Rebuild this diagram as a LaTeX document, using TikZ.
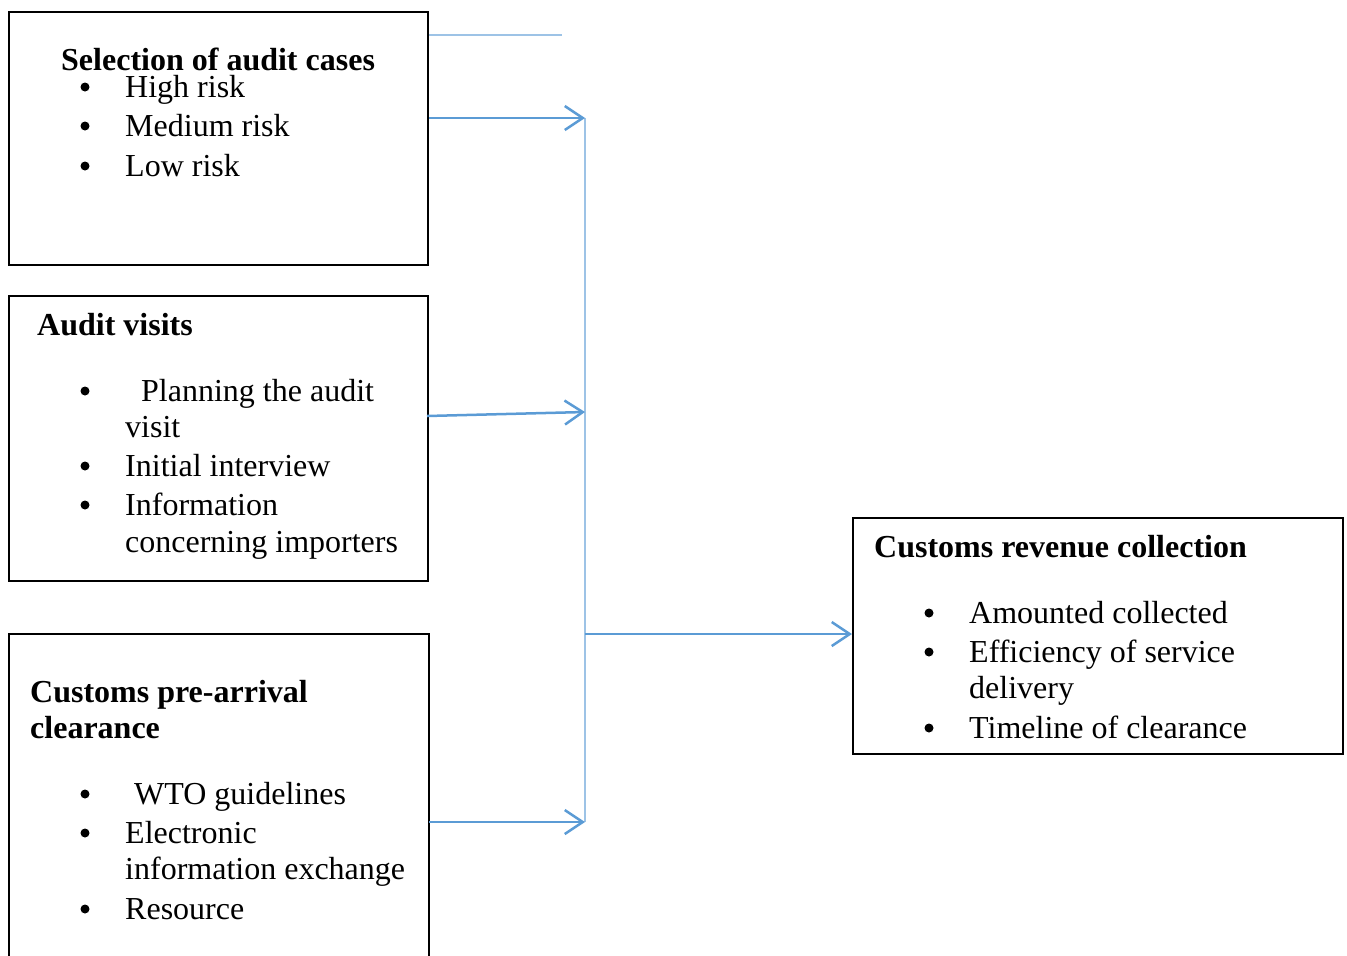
\documentclass[tikz,border=0pt]{standalone}
\usepackage{fontspec}
\setmainfont{Liberation Serif}
\usetikzlibrary{arrows.meta}
\definecolor{arrblue}{RGB}{91,155,213}
\definecolor{lineblue}{RGB}{157,195,230}
\begin{document}
\begin{tikzpicture}[x=1pt,y=-1pt,
  box/.style={draw=black,line width=2pt,rectangle,anchor=north west,inner sep=0pt},
  txt/.style={anchor=base west,inner sep=0pt,font=\fontsize{32}{38}\selectfont},
  ttl/.style={txt,font=\fontsize{32}{38}\selectfont\bfseries},
  bul/.style={circle,fill=black,inner sep=0pt,minimum size=9pt},
  conn/.style={draw=arrblue,line width=2.5pt,-{Straight Barb[length=18pt,width=24pt,line width=2.5pt]}},
  vline/.style={draw=lineblue,line width=2pt},
  thin/.style={draw=lineblue,line width=1.2pt}]
\useasboundingbox (0,0) rectangle (1347,956);
\clip (0,0) rectangle (1347,956);
% boxes
\node[box,minimum width=419pt,minimum height=253pt] (b1) at (8,11) {};
\node[box,minimum width=419pt,minimum height=285pt] (b2) at (8,295) {};
\node[box,draw=none,minimum width=418pt,minimum height=340pt] (b3) at (9,634) {};
\draw[black,line width=2pt] (b3.south west) -- (b3.north west) -- (b3.north east) -- (b3.south east);
\node[box,minimum width=490pt,minimum height=236pt] (b4) at (852,517) {};
% box 1 text
\node[ttl] (t1) at (61,70) {Selection of audit cases};
\node[bul] (p11) at (85,87) {}; \node[txt] (l11) at (125,97) {High risk};
\node[bul] (p12) at (85,126) {}; \node[txt] (l12) at (125,136) {Medium risk};
\node[bul] (p13) at (85,166) {}; \node[txt] (l13) at (125,176) {Low risk};
% box 2 text
\node[ttl] (t2) at (37,335) {Audit visits};
\node[bul] (p21) at (85,391) {}; \node[txt] (l21) at (141,401) {Planning the audit};
\node[txt] (l21b) at (125,437) {visit};
\node[bul] (p22) at (85,466) {}; \node[txt] (l22) at (125,476) {Initial interview};
\node[bul] (p23) at (85,505) {}; \node[txt] (l23) at (125,515) {Information};
\node[txt] (l23b) at (125,552) {concerning importers};
% box 3 text
\node[ttl] (t3) at (30,702) {Customs pre-arrival};
\node[ttl] (t3b) at (30,738) {clearance};
\node[bul] (p31) at (85,794) {}; \node[txt] (l31) at (134,804) {WTO guidelines};
\node[bul] (p32) at (85,833) {}; \node[txt] (l32) at (125,843) {Electronic};
\node[txt] (l32b) at (125,879) {information exchange};
\node[bul] (p33) at (85,909) {}; \node[txt] (l33) at (125,919) {Resource};
% box 4 text
\node[ttl] (t4) at (874,557) {Customs revenue collection};
\node[bul] (p41) at (929,613) {}; \node[txt] (l41) at (969,623) {Amounted collected};
\node[bul] (p42) at (929,652) {}; \node[txt] (l42) at (969,662) {Efficiency of service};
\node[txt] (l42b) at (969,698) {delivery};
\node[bul] (p43) at (929,728) {}; \node[txt] (l43) at (969,738) {Timeline of clearance};
% connectors
\coordinate (ja) at (585,118);
\coordinate (jb) at (585,412);
\coordinate (jc) at (585,822);
\coordinate (jd) at (585,634);
\coordinate (tl) at (562,35);
\draw[vline] (ja) -- (jc);
\draw[thin] (b1.east |- tl) -- (tl);
\draw[conn] (b1.east |- ja) -- (ja);
\draw[conn] (427,416) -- (jb);
\draw[conn] (b3.east |- jc) -- (jc);
\draw[conn] (jd) -- (b4.west |- jd);
\end{tikzpicture}
\end{document}
